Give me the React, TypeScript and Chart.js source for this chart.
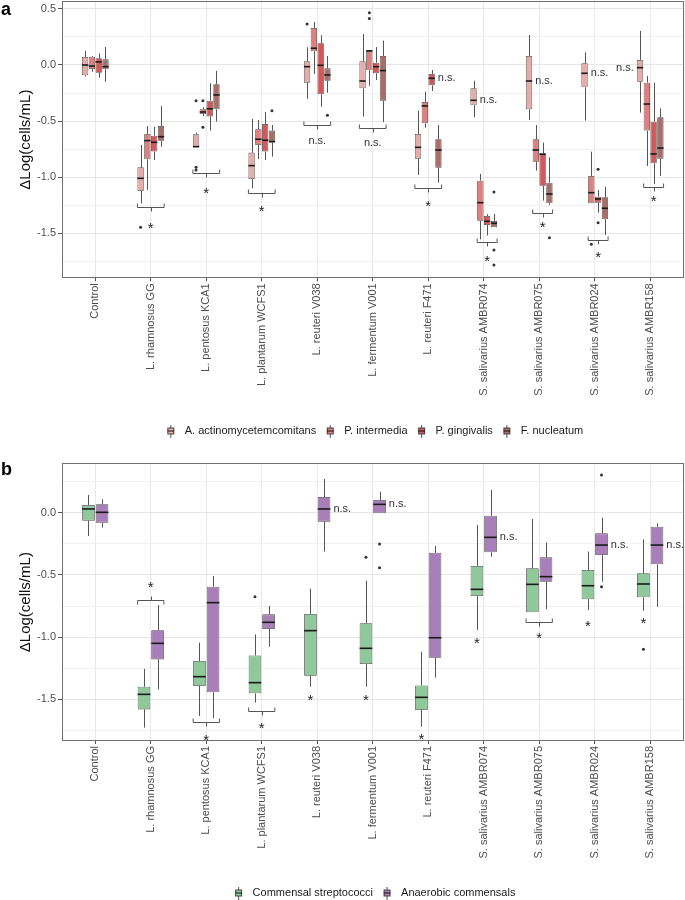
import React, { useEffect, useRef } from 'react';
import { Chart, registerables } from 'chart.js';

Chart.register(...registerables);

// ---------- data ----------
const categories = [
  'Control', 'L. rhamnosus GG', 'L. pentosus KCA1', 'L. plantarum WCFS1', 'L. reuteri V038',
  'L. fermentum V001', 'L. reuteri F471', 'S. salivarius AMBR074', 'S. salivarius AMBR075',
  'S. salivarius AMBR024', 'S. salivarius AMBR158',
];
const yTickValues = [-1.5, -1.0, -0.5, 0.0, 0.5];
const yTickLabels = ['-1.5', '-1.0', '-0.5', '0.0', '0.5'];

// Panel a: [lower whisker, Q1, median, Q3, upper whisker]
const actinoStats = [
  [-0.104, -0.092, 0.0, 0.071, 0.125], [-1.233, -1.123, -1.01, -0.912, -0.713],
  [-0.734, -0.734, -0.728, -0.618, -0.603], [-1.099, -1.016, -0.897, -0.781, -0.481],
  [-0.303, -0.158, -0.015, 0.033, 0.158], [-0.46, -0.208, -0.143, 0.033, 0.276],
  [-0.98, -0.835, -0.734, -0.615, -0.407], [-0.466, -0.359, -0.315, -0.208, -0.14],
  [-0.49, -0.395, -0.143, 0.08, 0.267], [-0.496, -0.199, -0.074, 0.015, 0.113],
  [-0.425, -0.149, -0.024, 0.045, 0.303],
];
const actinoOut = [[], [-1.447], [-0.318, -0.912, -0.936], [], [0.365], [], [], [], [], [], []];

const interStats = [
  [-0.06, -0.036, -0.01, 0.074, 0.08], [-1.114, -0.841, -0.674, -0.615, -0.544],
  [-0.455, -0.437, -0.419, -0.395, -0.377], [-0.84, -0.713, -0.662, -0.573, -0.49],
  [-0.08, 0.122, 0.149, 0.33, 0.383], [-0.187, -0.047, 0.125, 0.131, 0.131],
  [-0.559, -0.52, -0.365, -0.33, -0.238], [-1.554, -1.388, -1.227, -1.031, -0.971],
  [-0.942, -0.862, -0.758, -0.662, -0.535], [-1.233, -1.233, -1.138, -0.989, -0.772],
  [-0.9, -0.585, -0.348, -0.158, -0.098],
];
const interOut = [[], [], [-0.318, -0.556], [], [], [0.466, 0.413], [], [], [], [-1.598], []];

const gingStats = [
  [-0.113, -0.069, 0.027, 0.06, 0.104], [-0.847, -0.772, -0.689, -0.63, -0.55],
  [-0.585, -0.46, -0.39, -0.318, -0.163], [-0.847, -0.772, -0.671, -0.526, -0.419],
  [-0.371, -0.261, -0.003, 0.193, 0.265], [-0.134, -0.074, -0.015, 0.02, 0.16],
  [-0.232, -0.181, -0.119, -0.08, -0.045], [-1.52, -1.426, -1.393, -1.346, -1.33],
  [-1.209, -1.076, -0.796, -0.787, -0.692], [-1.316, -1.227, -1.194, -1.174, -1.114],
  [-1.061, -0.876, -0.793, -0.505, -0.158],
];
const gingOut = [[], [], [], [], [], [], [], [], [], [-0.93, -1.405], []];

const nuclStats = [
  [-0.149, -0.039, -0.015, 0.05, 0.16], [-0.728, -0.675, -0.639, -0.544, -0.365],
  [-0.505, -0.395, -0.267, -0.172, -0.053], [-0.817, -0.692, -0.683, -0.585, -0.535],
  [-0.247, -0.14, -0.089, -0.03, 0.08], [-0.508, -0.318, -0.05, 0.08, 0.217],
  [-1.049, -0.915, -0.758, -0.662, -0.535], [-1.447, -1.447, -1.411, -1.39, -1.328],
  [-1.248, -1.233, -1.15, -1.049, -0.823], [-1.515, -1.375, -1.277, -1.179, -1.085],
  [-0.989, -0.835, -0.74, -0.466, -0.386],
];
const nuclOut = [[], [], [], [-0.407], [-0.448], [], [], [-1.132, -1.649, -1.783], [-1.539], [], []];

const bracketA = [null, -1.268, -0.965, -1.138, -0.535, -0.559, -1.099, -1.58, -1.322, -1.56, -1.085];
const bracketFromA = [0, 0, 0, 0, 0, 0, 0, 1, 1, 1, 1];
const sigTextA = ['', '*', '*', '*', 'n.s.', 'n.s.', '*', '*', '*', '*', '*'];
const sigYA = [null, -1.42, -1.108, -1.268, -0.68, -0.698, -1.227, -1.714, -1.417, -1.684, -1.185];
const notesA = [[6, 2, 'R'], [7, 0, 'R'], [8, 0, 'R'], [9, 0, 'R'], [10, 0, 'L']];

// Panel b
const strepStats = [
  [-0.187, -0.064, 0.03, 0.062, 0.142], [-1.728, -1.581, -1.46, -1.399, -1.256],
  [-1.634, -1.393, -1.318, -1.192, -1.045], [-1.527, -1.452, -1.366, -1.147, -0.978],
  [-1.399, -1.31, -0.948, -0.814, -0.611], [-1.399, -1.216, -1.09, -0.889, -0.546],
  [-1.72, -1.586, -1.484, -1.388, -1.117], [-0.943, -0.67, -0.616, -0.428, -0.099],
  [-0.801, -0.801, -0.576, -0.447, -0.051], [-0.782, -0.696, -0.587, -0.461, -0.313],
  [-0.788, -0.68, -0.573, -0.487, -0.214],
];
const strepOut = [[], [], [], [-0.675], [], [-0.359], [], [], [], [], [-1.098]];

const anaerStats = [
  [-0.12, -0.08, 0.003, 0.068, 0.108], [-1.42, -1.179, -1.05, -0.945, -0.742],
  [-1.653, -1.444, -0.723, -0.595, -0.509], [-1.077, -0.935, -0.881, -0.817, -0.75],
  [-0.313, -0.072, 0.03, 0.126, 0.271], [-0.005, -0.005, 0.067, 0.102, 0.169],
  [-1.326, -1.166, -1.005, -0.322, -0.268], [-0.354, -0.318, -0.198, -0.024, 0.182],
  [-0.774, -0.555, -0.514, -0.359, -0.238], [-0.555, -0.34, -0.26, -0.166, -0.04],
  [-0.756, -0.415, -0.26, -0.113, -0.085],
];
const anaerOut = [[], [], [], [], [], [-0.252, -0.442], [], [], [], [0.303, -0.595], []];

const bracketB = [null, -0.702, -1.685, -1.594, null, null, null, null, -0.881, null, null];
const bracketFromB = [0, 0, 0, 0, 0, 0, 0, 0, 0, 0, 0];
const sigTextB = ['', '*', '*', '*', '*', '*', '*', '*', '*', '*', '*'];
const sigYB = [null, -0.568, -1.795, -1.701, -1.479, -1.479, -1.787, -1.023, -0.975, -0.881, -0.857];
const notesB = [[4, 1, 'R'], [5, 1, 'R'], [7, 1, 'R'], [9, 1, 'R'], [10, 1, 'R']];

const yRangeA = [-1.901, 0.57];
const yRangeB = [-1.835, 0.397];

// ---------- drawing ----------
const FONT = "'Liberation Sans', Arial, Helvetica, sans-serif";
Chart.defaults.font.family = FONT;

function makeIcon(fill: string) {
  const c = document.createElement('canvas');
  c.width = 9; c.height = 13;
  const g = c.getContext('2d')!;
  g.strokeStyle = '#555'; g.lineWidth = 1;
  g.beginPath(); g.moveTo(4.5, 0); g.lineTo(4.5, 13); g.stroke();
  g.fillStyle = fill; g.fillRect(1, 3, 7, 7);
  g.strokeStyle = '#444'; g.strokeRect(1.5, 3.5, 6, 6);
  g.strokeStyle = '#111'; g.beginPath(); g.moveTo(1, 6.5); g.lineTo(8, 6.5); g.stroke();
  return c;
}

const majorIndex = (v: any) => {
  if (typeof v !== 'number') return -1;
  return yTickValues.findIndex((t) => Math.abs(t - v) < 1e-6);
};

function buildConfig(spec: any) {
  const icons = spec.series.map((s: any) => makeIcon(s.color));
  const boxPlugin = {
    id: 'boxExtras',
    beforeDatasetsDraw(chart: any) {
      const y = chart.scales.y; const ctx = chart.ctx;
      ctx.save();
      ctx.strokeStyle = '#555'; ctx.lineWidth = 1;
      spec.series.forEach((s: any, si: number) => {
        const meta = chart.getDatasetMeta(si);
        s.stats.forEach((st: number[], j: number) => {
          const el = meta.data[j]; if (!el) return;
          const x = Math.round(el.x) + 0.5;
          ctx.beginPath();
          ctx.moveTo(x, y.getPixelForValue(st[4])); ctx.lineTo(x, y.getPixelForValue(st[3]));
          ctx.moveTo(x, y.getPixelForValue(st[1])); ctx.lineTo(x, y.getPixelForValue(st[0]));
          ctx.stroke();
        });
      });
      ctx.restore();
    },
    afterDatasetsDraw(chart: any) {
      const y = chart.scales.y; const ctx = chart.ctx;
      ctx.save();
      spec.series.forEach((s: any, si: number) => {
        const meta = chart.getDatasetMeta(si);
        s.stats.forEach((st: number[], j: number) => {
          const el = meta.data[j]; if (!el) return;
          const yy = y.getPixelForValue(st[2]);
          ctx.strokeStyle = '#1a1a1a'; ctx.lineWidth = 1.6;
          ctx.beginPath(); ctx.moveTo(el.x - el.width / 2, yy); ctx.lineTo(el.x + el.width / 2, yy); ctx.stroke();
          ctx.fillStyle = '#333';
          (s.outliers[j] || []).forEach((v: number) => {
            ctx.beginPath(); ctx.arc(el.x, y.getPixelForValue(v), 1.5, 0, Math.PI * 2); ctx.fill();
          });
        });
      });
      const nSeries = spec.series.length;
      spec.sigText.forEach((txt: string, j: number) => {
        if (!txt) return;
        const b = spec.bracket[j];
        let sx: number;
        const sy = y.getPixelForValue(spec.sigY[j]);
        if (b !== null && b !== undefined) {
          const e0 = chart.getDatasetMeta(spec.bracketFrom[j]).data[j];
          const e1 = chart.getDatasetMeta(nSeries - 1).data[j];
          const left = e0.x - e0.width / 2; const right = e1.x + e1.width / 2;
          const by = Math.round(y.getPixelForValue(b)) + 0.5;
          const dir = sy < by ? -1 : 1;
          sx = (left + right) / 2;
          ctx.strokeStyle = '#555'; ctx.lineWidth = 1;
          ctx.beginPath();
          ctx.moveTo(left, by - dir * 4); ctx.lineTo(left, by); ctx.lineTo(right, by); ctx.lineTo(right, by - dir * 4);
          ctx.moveTo(Math.round(sx) + 0.5, by); ctx.lineTo(Math.round(sx) + 0.5, by + dir * 4);
          ctx.stroke();
        } else {
          sx = chart.getDatasetMeta(0).data[j].x;
        }
        ctx.fillStyle = '#222';
        ctx.textAlign = 'center';
        if (txt === '*') {
          ctx.font = `15px ${FONT}`; ctx.textBaseline = 'alphabetic';
          ctx.fillText('*', sx, sy + 8.5);
        } else {
          ctx.font = `11px ${FONT}`; ctx.textBaseline = 'middle';
          ctx.fillStyle = '#333';
          ctx.fillText(txt, sx, sy);
        }
      });
      ctx.font = `11px ${FONT}`; ctx.textBaseline = 'middle'; ctx.fillStyle = '#333';
      spec.notes.forEach((n: any[]) => {
        const [j, si, side] = n;
        const el = chart.getDatasetMeta(si).data[j];
        const yy = y.getPixelForValue(spec.series[si].stats[j][2]);
        if (side === 'R') { ctx.textAlign = 'left'; ctx.fillText('n.s.', el.x + el.width / 2 + 3, yy); }
        else { ctx.textAlign = 'right'; ctx.fillText('n.s.', el.x - el.width / 2 - 3, yy); }
      });
      ctx.restore();
    },
    afterDraw(chart: any) {
      const a = chart.chartArea; const ctx = chart.ctx;
      ctx.save(); ctx.strokeStyle = '#6f6f6f'; ctx.lineWidth = 1;
      ctx.strokeRect(Math.round(a.left) + 0.5, Math.round(a.top) + 0.5, Math.round(a.right - a.left) - 1, Math.round(a.bottom - a.top) - 1);
      ctx.restore();
    },
  };

  return {
    type: 'bar',
    data: {
      datasets: spec.series.map((s: any) => ({
        label: s.label,
        data: s.stats.map((st: number[], i: number) => ({ x: i, y: [st[1], st[3]] })),
        backgroundColor: s.color,
        borderColor: '#4a4a4a',
        borderWidth: 0.8,
        borderSkipped: false,
        categoryPercentage: 0.49,
        barPercentage: 0.93,
      })),
    },
    options: {
      responsive: false,
      devicePixelRatio: 1,
      animation: false,
      events: [],
      layout: { padding: { left: 16, right: 1.5, top: spec.padTop, bottom: spec.padBottom } },
      plugins: {
        tooltip: { enabled: false },
        legend: {
          position: 'bottom',
          fullSize: false,
          labels: {
            usePointStyle: true,
            pointStyleWidth: 17,
            padding: 5.5,
            color: '#1a1a1a',
            font: { size: 11, family: FONT },
            generateLabels: (chart: any) =>
              (Chart.defaults.plugins.legend.labels as any).generateLabels(chart).map((it: any, i: number) => ({ ...it, pointStyle: icons[i] })),
          },
        },
      },
      scales: {
        x: {
          type: 'linear',
          min: -0.6,
          max: 10.6,
          offset: false,
          afterFit: (s: any) => { s.height = spec.xHeight; s.paddingLeft = 0; s.paddingRight = 0; },
          grid: { offset: false, color: '#E8E8E8', lineWidth: 1, tickColor: '#555', tickLength: 3 },
          border: { display: false },
          ticks: {
            stepSize: 1,
            includeBounds: false,
            maxTicksLimit: 40,
            autoSkip: false,
            maxRotation: 90,
            minRotation: 90,
            padding: 2,
            color: '#4D4D4D',
            font: { size: 11, family: FONT },
            callback: (v: any) => {
              const i = Math.round(v);
              return Math.abs(v - i) < 1e-6 && categories[i] ? categories[i] : '';
            },
          },
        },
        y: {
          type: 'linear',
          min: spec.yRange[0],
          max: spec.yRange[1],
          afterFit: (s: any) => { s.width = 46; s.paddingTop = 0; s.paddingBottom = 0; },
          grid: {
            color: (c: any) => (majorIndex(c.tick && c.tick.value) >= 0 ? '#E6E6E6' : '#F1F1F1'),
            lineWidth: 1,
            tickColor: (c: any) => (majorIndex(c.tick && c.tick.value) >= 0 ? '#555' : 'rgba(0,0,0,0)'),
            tickLength: 4,
          },
          border: { display: false },
          title: { display: true, text: 'ΔLog(cells/mL)', color: '#111', font: { size: 15, family: FONT }, padding: { top: 1, bottom: 1 } },
          ticks: {
            stepSize: 0.25,
            includeBounds: false,
            maxTicksLimit: 40,
            padding: 2,
            color: '#4D4D4D',
            font: { size: 11, family: FONT },
            callback: (v: any) => {
              const k = majorIndex(v);
              return k >= 0 ? yTickLabels[k] : '';
            },
          },
        },
      },
    },
    plugins: [boxPlugin],
  };
}

const specA = {
  series: [
    { label: 'A. actinomycetemcomitans', color: '#E6ACAA', stats: actinoStats, outliers: actinoOut },
    { label: 'P. intermedia', color: '#E17F7E', stats: interStats, outliers: interOut },
    { label: 'P. gingivalis', color: '#D6575A', stats: gingStats, outliers: gingOut },
    { label: 'F. nucleatum', color: '#A96D68', stats: nuclStats, outliers: nuclOut },
  ],
  bracket: bracketA, bracketFrom: bracketFromA, sigText: sigTextA, sigY: sigYA, notes: notesA,
  yRange: yRangeA, padTop: 1, padBottom: 3.5, xHeight: 141.7,
};

const specB = {
  series: [
    { label: 'Commensal streptococci', color: '#8FC99B', stats: strepStats, outliers: strepOut },
    { label: 'Anaerobic commensals', color: '#A97FB9', stats: anaerStats, outliers: anaerOut },
  ],
  bracket: bracketB, bracketFrom: bracketFromB, sigText: sigTextB, sigY: sigYB, notes: notesB,
  yRange: yRangeB, padTop: 13.3, padBottom: 1.5, xHeight: 141,
};

function Panel({ spec, top, height }: { spec: any; top: number; height: number }) {
  const ref = useRef<HTMLCanvasElement>(null);
  useEffect(() => {
    const chart = new Chart(ref.current as HTMLCanvasElement, buildConfig(spec) as any);
    return () => chart.destroy();
  }, []);
  return (
    <canvas ref={ref} width={685} height={height}
      style={{ position: 'absolute', left: 0, top, width: 685, height, display: 'block' }} />
  );
}

export default function App() {
  const lab = { position: 'absolute' as const, left: 1, font: `bold 18px ${FONT}`, lineHeight: '18px', color: '#000' };
  return (
    <div style={{ position: 'fixed', left: 0, top: 0, width: 685, height: 900, overflow: 'hidden', background: '#fff' }}>
      <Panel spec={specA} top={0} height={450} />
      <Panel spec={specB} top={450} height={460} />
      <div style={{ ...lab, top: 0 }}>a</div>
      <div style={{ ...lab, top: 460 }}>b</div>
    </div>
  );
}
